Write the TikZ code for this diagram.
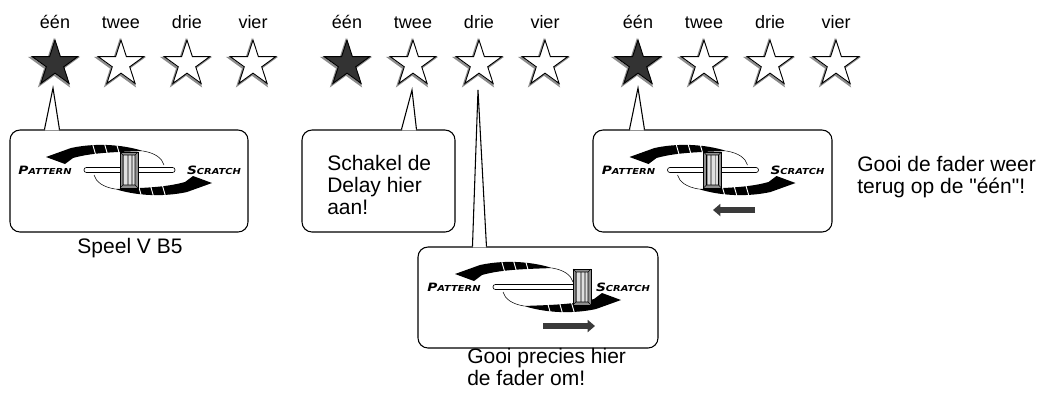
\documentclass[tikz,border=0pt]{standalone}
\usepackage{fontspec}
\setmainfont{Liberation Sans}[Ligatures=TeXOff]
\newfontfamily\faderfont{DejaVu Sans}
\usepackage{graphicx}
\usetikzlibrary{positioning,arrows.meta,shapes.geometric,calc}
\definecolor{starfill}{HTML}{333333}
\definecolor{starshade}{HTML}{8C8C8C}
\definecolor{capgray}{HTML}{8F8F8F}
\definecolor{slide}{HTML}{3A3A3A}
\newcommand{\fadername}[2]{\scalebox{1.2}[1]{\faderfont\bfseries\itshape\fontsize{8.6}{9}\selectfont #1\fontsize{6.2}{7}\selectfont #2}}
\tikzset{
  callout/.style={rectangle, rounded corners=7.5pt, draw=black, fill=white, line width=0.8pt, inner sep=0pt},
  tail/.style={draw=black, line width=0.8pt, line join=miter},
  rate/.style={star, star points=5, star point ratio=2.618, minimum size=36pt, inner sep=0pt, draw=black, line width=0.7pt},
  rateshade/.style={star, star points=5, star point ratio=2.618, minimum size=36pt, inner sep=0pt, draw=starshade, line width=1.6pt},
  numlabel/.style={font=\fontsize{13.5}{15}\selectfont, anchor=base, inner sep=0pt},
  note/.style={font=\fontsize{15.75}{16.5}\selectfont, align=left, anchor=base west, inner sep=0pt},
  move/.style={-{Triangle[length=5.5pt,width=9pt]}, line width=4.5pt, draw=slide},
  pics/fader/.style={code={
    % thin guide ring
    \draw[line width=0.4pt] (14,-19) .. controls (26,-17) and (33,-12) .. (35,-5);
    \draw[line width=0.4pt] (-14,19) .. controls (-26,17) and (-33,12) .. (-35,5);
    % black sweeps
    \foreach \r in {0,180}{
      \begin{scope}[rotate=\r]
        \fill (14,-19) .. controls (-8,-26) and (-35,-27) .. (-58,-22) -- (-83,-13)
          -- (-64,-6) -- (-56,-12) .. controls (-35,-18) and (-8,-18) .. (14,-19) -- cycle;
        \foreach \s in {-34,-22,-10}
          \draw[white, line width=0.7pt] (\s-3,-28) -- (\s+1,-14);
      \end{scope}
    }
    % track and cap
    \filldraw[fill=white, line width=0.5pt, rounded corners=1.8pt] (-45,-2.5) rectangle (46,2.5);
    \begin{scope}[shift={(#1,0)}]
      \filldraw[fill=capgray, line width=0.6pt] (-9,-18) rectangle (9,18);
      \fill[gray!25] (-5,-15) rectangle (-2.5,15);
      \fill[gray!25] (-0.5,-15) rectangle (2,15);
      \fill[gray!25] (3.5,-15) rectangle (5.5,15);
      \draw[line width=0.4pt] (-9,-18) -- (-6,-15) -- (6,-15) -- (9,-18)
        (-6,-15) -- (-6,15) -- (-9,18) (6,-15) -- (6,15) -- (9,18) (-6,15) -- (6,15);
    \end{scope}
    \node (pat) at (-84,0) {\fadername{P}{ATTERN}};
    \node (scr) at (85,0) {\fadername{S}{CRATCH}};
  }}
}

\begin{document}
\begin{tikzpicture}[x=0.75pt, y=-0.75pt]
\useasboundingbox (0,0) rectangle (1039,401);

% stars with their numbers
\foreach \g/\gx in {1/55,2/347,3/638}{
  \foreach \w/\f [count=\i] in {één/starfill,twee/white,drie/white,vier/white}{
    \node[rateshade] (h\g\i) at (\gx+66*\i-66-1,65.3) {};
    \node[rate, fill=\f] (s\g\i) at (\gx+66*\i-66,64) {};
    \node[numlabel] (l\g\i) at (\gx+66*\i-66,28) {\w};
  }
}

% callout boxes
\node[callout, minimum width=178.5pt, minimum height=76.5pt] (b1) at (129,181) {};
\node[callout, minimum width=114.75pt, minimum height=76.5pt] (b2) at (378.5,181) {};
\node[callout, minimum width=180pt, minimum height=75.75pt] (b3) at (538,297.5) {};
\node[callout, minimum width=179.25pt, minimum height=76.5pt] (b4) at (712.5,181) {};

% pointers
\coordinate (t1) at ($(s11)+(-2,24)$);
\coordinate (t2) at ($(s22)+(-1,26)$);
\coordinate (t3) at ($(s23)+(-1,26)$);
\coordinate (t4) at ($(s31)+(0,24)$);
\fill[white] ($(b1.north west)+(35.6,1)$) -- (t1) -- ($(b1.north west)+(49.4,1)$) -- cycle;
\draw[tail] ($(b1.north west)+(35,0)$) -- (t1) -- ($(b1.north west)+(50,0)$);
\fill[white] ($(b2.north west)+(100.6,1)$) -- (t2) -- ($(b2.north west)+(114.4,1)$) -- cycle;
\draw[tail] ($(b2.north west)+(100,0)$) -- (t2) -- ($(b2.north west)+(115,0)$);
\fill[white] ($(b3.north west)+(55.6,1)$) -- (t3) -- ($(b3.north west)+(68.4,1)$) -- cycle;
\draw[tail] ($(b3.north west)+(55,0)$) -- (t3) -- ($(b3.north west)+(69,0)$);
\fill[white] ($(b4.north west)+(37.6,1)$) -- (t4) -- ($(b4.north west)+(51.4,1)$) -- cycle;
\draw[tail] ($(b4.north west)+(37,0)$) -- (t4) -- ($(b4.north west)+(52,0)$);

% faders
\pic (f1) at (129,170) {fader=0};
\pic (f3) at (538,287) {fader=44};
\pic (f4) at (712.5,170) {fader=0};

% fader moves
\coordinate (m3a) at (543,326);
\coordinate (m3b) at (595,326);
\coordinate (m4a) at (755,210);
\coordinate (m4b) at (713,210);
\draw[move] (m3a) -- (m3b);
\draw[move] (m4a) -- (m4b);

% texts (anchor on the last line)
\node[font=\fontsize{15.75}{16.5}\selectfont, anchor=base, inner sep=0pt] (c1) at (130,253) {Speel V B5};
\node[note] (c2) at (327,214) {Schakel de\\Delay hier\\aan!};
\node[note] (c3) at (467,385) {Gooi precies hier\\de fader om!};
\node[note] (c4) at (857,193) {Gooi de fader weer\\terug op de "één"!};
\end{tikzpicture}
\end{document}
